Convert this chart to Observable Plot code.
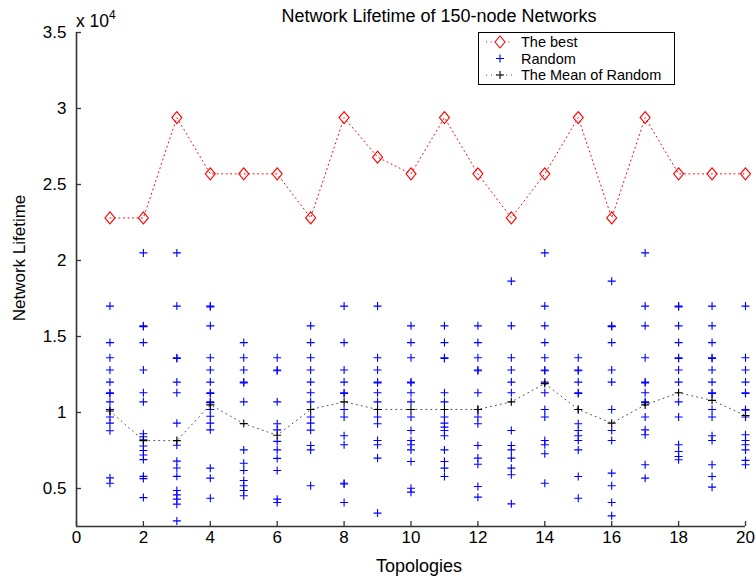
<!DOCTYPE html>
<html>
<head>
<meta charset="utf-8">
<script src="https://cdn.jsdelivr.net/npm/d3@7"></script>
<script src="https://cdn.jsdelivr.net/npm/@observablehq/plot@0.6"></script>
<style>
  html, body { margin: 0; padding: 0; background: #fff; }
  #chart { width: 756px; height: 578px; }
</style>
</head>
<body>
<div id="chart"></div>
<script>
// ---- data ----
const topologies = [1, 2, 3, 4, 5, 6, 7, 8, 9, 10, 11, 12, 13, 14, 15, 16, 17, 18, 19, 20];
const bestValues = [22800, 22800, 29400, 25700, 25700, 25700, 22800, 29400, 26800, 25700,
                    29400, 25700, 22800, 25700, 29400, 22800, 29400, 25700, 25700, 25700];
const meanValues = [10100, 8150, 8150, 10500, 9270, 8500, 10200, 10700, 10200, 10200,
                    10200, 10200, 10700, 11900, 10200, 9300, 10500, 11300, 10800, 9800];
const randomValues = [
  [17000, 14600, 13600, 12800, 12000, 11300, 11250, 10700, 10200, 9700, 9300, 8800, 5700, 5350],
  [20500, 15700, 15650, 14600, 12800, 11300, 10700, 8600, 8400, 8200, 7800, 7500, 7200, 6900, 5800, 5650, 4400],
  [20500, 17000, 13600, 13550, 12000, 11300, 9300, 7850, 6800, 6350, 5800, 4870, 4580, 4300, 3970, 2870],
  [17000, 16950, 15700, 13600, 12800, 12000, 11300, 11250, 10700, 10650, 10200, 9750, 9300, 8860, 6340, 5680, 4360],
  [14600, 13600, 12800, 12000, 11950, 10700, 7540, 6660, 6180, 5530, 5180, 4870, 4520],
  [13600, 12800, 12750, 10700, 9260, 8860, 8100, 7540, 6980, 6180, 4300, 4080],
  [15700, 14600, 13600, 12800, 12000, 11300, 10700, 9700, 9300, 8840, 7830, 7540, 5180],
  [17000, 14600, 12800, 12000, 11300, 11250, 10200, 9700, 8470, 7880, 5350, 5300, 4080],
  [17000, 13600, 12800, 12000, 11950, 11300, 10700, 9700, 9260, 8160, 7880, 7000, 3380],
  [15700, 14600, 13600, 12000, 11950, 11300, 10700, 9700, 8820, 8160, 7880, 7540, 6780, 5020, 4760],
  [15700, 14600, 13600, 13550, 11300, 10700, 9700, 9300, 9040, 8820, 8470, 7540, 6780, 6340, 5790],
  [15700, 14600, 13600, 12800, 12750, 11300, 10200, 9700, 9260, 7830, 7000, 6600, 5130, 4430],
  [18640, 15700, 13600, 12800, 12000, 11300, 8820, 7830, 7540, 7000, 6340, 5900, 3990],
  [20500, 17000, 15700, 14600, 13600, 12800, 12750, 12000, 11300, 10200, 9700, 8160, 7880, 7290, 5350],
  [13600, 12800, 12750, 12000, 11300, 11250, 10200, 9260, 8820, 8470, 8160, 7540, 5790, 4360],
  [18640, 15700, 15650, 14600, 12800, 12000, 10200, 8820, 8160, 6010, 5180, 4080, 3200],
  [20500, 17000, 15700, 13600, 12000, 11950, 11300, 10700, 10650, 9700, 8860, 8540, 6560, 5680],
  [17000, 16950, 15700, 14600, 13600, 13550, 12800, 12000, 10700, 9700, 7880, 7430, 7110, 6890],
  [17000, 15700, 14600, 13600, 13550, 12800, 12000, 11300, 11250, 10200, 9700, 8470, 8160, 6560, 5790, 5090],
  [17000, 13600, 12800, 12000, 11300, 11250, 10200, 10150, 9700, 8540, 8160, 7880, 7540, 6850, 6560]
];
const xTicks = [0, 2, 4, 6, 8, 10, 12, 14, 16, 18, 20];
const yTicks = [5000, 10000, 15000, 20000, 25000, 30000, 35000];
const titleText = "Network Lifetime of 150-node Networks";
const xLabel = "Topologies";
const yLabel = "Network Lifetime";
const legendLabels = ["The best", "Random", "The Mean of Random"];

// ---- tables built from the arrays ----
const bestData = topologies.map((t, i) => ({t, v: bestValues[i]}));
const meanData = topologies.map((t, i) => ({t, v: meanValues[i]}));
const randomData = topologies.flatMap((t, i) => randomValues[i].map(v => ({t, v})));

// ---- custom symbols ----
const plusSym = {
  draw(ctx, size) {
    const r = Math.sqrt(size / Math.PI);
    ctx.moveTo(-r, 0); ctx.lineTo(r, 0);
    ctx.moveTo(0, -r); ctx.lineTo(0, r);
  }
};
const diamondSym = {
  draw(ctx, size) {
    const r = Math.sqrt(size / Math.PI);
    const h = r * 1.2;
    ctx.moveTo(0, -h); ctx.lineTo(r, 0); ctx.lineTo(0, h); ctx.lineTo(-r, 0); ctx.closePath();
  }
};

const FONT = "'Liberation Sans', Arial, Helvetica, sans-serif";
const axisColor = "#333";

const plot = Plot.plot({
  width: 756,
  height: 578,
  marginLeft: 76,
  marginRight: 11,
  marginTop: 32,
  marginBottom: 52,
  style: {fontFamily: FONT, fontSize: "17px", background: "#fff", color: "#000"},
  x: {domain: [0, 20]},
  y: {domain: [2500, 35000]},
  marks: [
    Plot.axisX(xTicks, {tickSize: 0, tickPadding: 4, label: null, fontSize: 17}),
    Plot.axisY(yTicks, {tickSize: 0, tickPadding: 10, label: null, fontSize: 17, tickFormat: d => String(d / 1e4)}),
    Plot.ruleY(yTicks, {x1: 0, x2: 0.15, stroke: axisColor, strokeWidth: 1.3}),
    Plot.ruleX(xTicks, {y1: 2500, y2: 2830, stroke: axisColor, strokeWidth: 1.3}),
    Plot.ruleX([0], {stroke: axisColor, strokeWidth: 1.6}),
    Plot.ruleY([2500], {stroke: axisColor, strokeWidth: 1.6}),
    Plot.line(bestData, {x: "t", y: "v", stroke: "#ff0000", strokeWidth: 1, strokeDasharray: "1,3.5"}),
    Plot.dot(randomData, {x: "t", y: "v", symbol: plusSym, r: 4, stroke: "#0000ff", strokeWidth: 1.1}),
    Plot.line(meanData, {x: "t", y: "v", stroke: "#000", strokeWidth: 1, strokeDasharray: "1,4", strokeOpacity: 0.7}),
    Plot.dot(meanData, {x: "t", y: "v", symbol: plusSym, r: 4, stroke: "#000", strokeWidth: 1.1}),
    Plot.dot(bestData, {x: "t", y: "v", symbol: diamondSym, r: 5, stroke: "#ff0000", fill: "none", strokeWidth: 1.1})
  ]
});

document.getElementById("chart").appendChild(plot);

// ---- texts & legend ----
const svg = d3.select(plot);
const g = svg.append("g").attr("font-family", FONT).attr("fill", "#000");

g.append("text").attr("x", 439).attr("y", 22).attr("text-anchor", "middle")
  .attr("font-size", 18).text(titleText);
g.append("text").attr("x", 419).attr("y", 572).attr("text-anchor", "middle")
  .attr("font-size", 18).text(xLabel);
g.append("text").attr("transform", "translate(25,258) rotate(-90)").attr("text-anchor", "middle")
  .attr("font-size", 17).text(yLabel);
const ex = g.append("text").attr("x", 76).attr("y", 27).attr("font-size", 17.5).attr("text-anchor", "start");
ex.append("tspan").text("x 10");
ex.append("tspan").attr("font-size", 12).attr("dy", -8).text("4");

// legend box
const lg = svg.append("g").attr("font-family", FONT).attr("text-anchor", "start");
lg.append("rect").attr("x", 478.5).attr("y", 32.5).attr("width", 196).attr("height", 52)
  .attr("fill", "#fff").attr("stroke", "#000").attr("stroke-width", 1);
const rowsY = [42, 58.5, 75];
const lineX0 = 486, lineX1 = 513, symX = 500;
// row 1: best
lg.append("line").attr("x1", lineX0).attr("x2", lineX1).attr("y1", rowsY[0]).attr("y2", rowsY[0])
  .attr("stroke", "#ff0000").attr("stroke-dasharray", "1,3.5");
lg.append("path").attr("d", `M${symX},${rowsY[0]-6}L${symX+5},${rowsY[0]}L${symX},${rowsY[0]+6}L${symX-5},${rowsY[0]}Z`)
  .attr("fill", "#fff").attr("stroke", "#ff0000").attr("stroke-width", 1.1);
// row 2: random
lg.append("path").attr("d", `M${symX-4},${rowsY[1]}h8M${symX},${rowsY[1]-4}v8`)
  .attr("stroke", "#0000ff").attr("stroke-width", 1.1).attr("fill", "none");
// row 3: mean
lg.append("line").attr("x1", lineX0).attr("x2", lineX1).attr("y1", rowsY[2]).attr("y2", rowsY[2])
  .attr("stroke", "#000").attr("stroke-dasharray", "1,4").attr("stroke-opacity", 0.7);
lg.append("path").attr("d", `M${symX-4},${rowsY[2]}h8M${symX},${rowsY[2]-4}v8`)
  .attr("stroke", "#000").attr("stroke-width", 1.1).attr("fill", "none");
legendLabels.forEach((lab, i) => {
  lg.append("text").attr("x", 521).attr("y", rowsY[i]).attr("dy", "0.35em")
    .attr("font-size", 14.5).attr("fill", "#000").attr("text-anchor", "start").text(lab);
});
</script>
</body>
</html>
